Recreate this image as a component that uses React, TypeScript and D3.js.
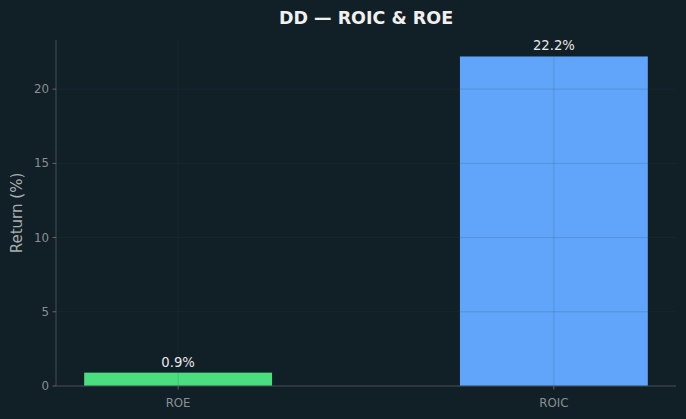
import React from "react";
import * as d3 from "d3";

const categories = ["ROE", "ROIC"];
const values = [0.9, 22.2];
const colors = ["#4ade80", "#60a5fa"];
const yTicks = [0, 5, 10, 15, 20];
const title = "DD — ROIC & ROE";

export default function App() {
  const W = 686, H = 419;
  const left = 56, right = 676, top = 40, bottom = 386;
  const x = d3.scaleLinear().domain([-0.325, 1.325]).range([left, right]);
  const y = d3.scaleLinear().domain([0, 22.2 * 1.05]).range([bottom, top]);
  const bw = x(0.5) - x(0);
  const font = "DejaVu Sans, sans-serif";
  return (
    <svg width={W} height={H} style={{ position: "absolute", left: 0, top: 0, background: "#111f26" }} fontFamily={font}>
      <rect x={0} y={0} width={W} height={H} fill="#111f26" />
      {categories.map((c, i) => (
        <rect key={c} x={x(i) - bw / 2} y={y(values[i])} width={bw} height={y(0) - y(values[i])} fill={colors[i]} />
      ))}
      {yTicks.map((t) => (
        <line key={"g" + t} x1={left} x2={right} y1={y(t)} y2={y(t)} stroke="#334455" strokeOpacity={0.25} strokeWidth={0.8} />
      ))}
      {categories.map((c, i) => (
        <line key={"gv" + c} x1={x(i)} x2={x(i)} y1={top} y2={bottom} stroke="#334455" strokeOpacity={0.25} strokeWidth={0.8} />
      ))}
      <line x1={left} x2={left} y1={top} y2={bottom} stroke="#444c52" strokeWidth={1} />
      <line x1={left} x2={right} y1={bottom} y2={bottom} stroke="#444c52" strokeWidth={1} />
      {yTicks.map((t) => (
        <g key={"t" + t}>
          <line x1={left - 3.5} x2={left} y1={y(t)} y2={y(t)} stroke="#777" strokeWidth={0.8} />
          <text x={left - 7} y={y(t)} dy="0.35em" textAnchor="end" fontSize={11.8} fill="#8a8f93">{t}</text>
        </g>
      ))}
      {categories.map((c, i) => (
        <g key={"x" + c}>
          <line x1={x(i)} x2={x(i)} y1={bottom} y2={bottom + 3.5} stroke="#777" strokeWidth={0.8} />
          <text x={x(i)} y={bottom + 21} textAnchor="middle" fontSize={11.8} fill="#8a8f93">{c}</text>
          <text x={x(i)} y={y(values[i]) - 6} textAnchor="middle" fontSize={13.2} fill="#e8e8e8">{values[i].toFixed(1)}%</text>
        </g>
      ))}
      <text transform={`translate(22,${(top + bottom) / 2}) rotate(-90)`} textAnchor="middle" fontSize={15} fill="#a9adb0">Return (%)</text>
      <text x={(left + right) / 2} y={24} textAnchor="middle" fontSize={17.5} fontWeight="bold" fill="#f0f0f0">{title}</text>
    </svg>
  );
}
